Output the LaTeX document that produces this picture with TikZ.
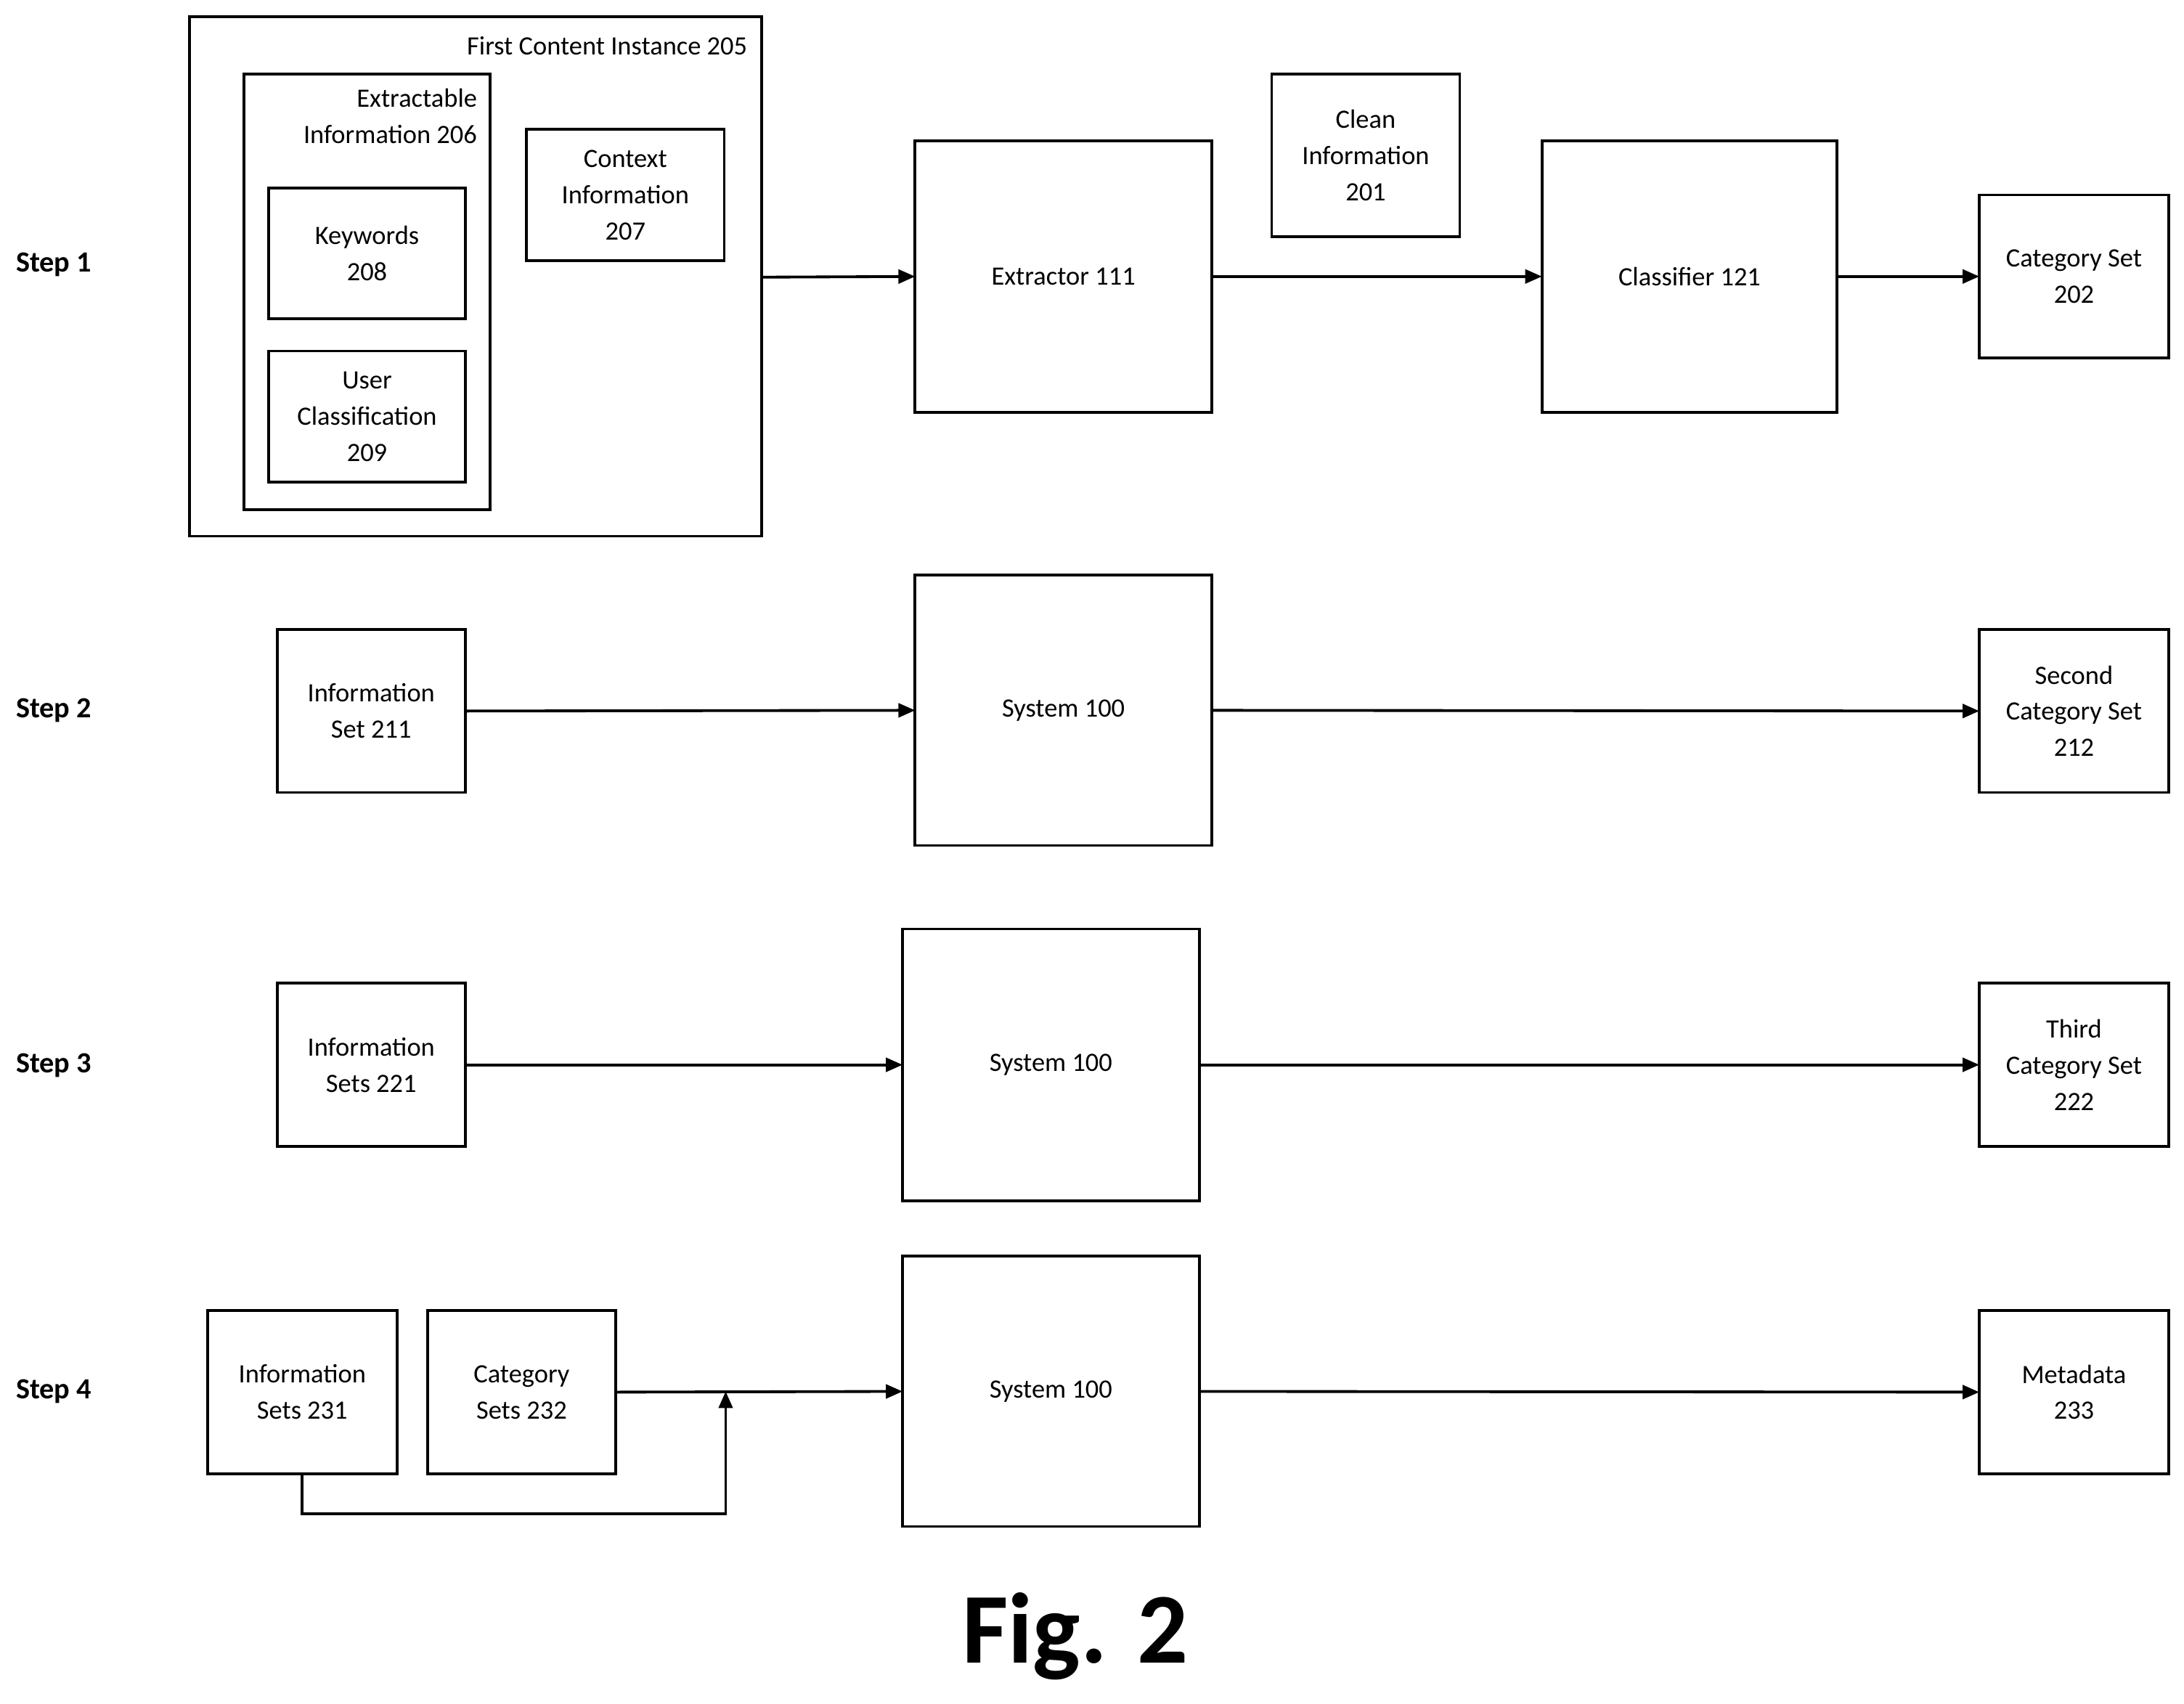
\documentclass[tikz,border=0pt]{standalone}
\usepackage{fontspec}
\setmainfont{Carlito}
\usetikzlibrary{arrows.meta}
\begin{document}
\begin{tikzpicture}[x=1pt,y=-1pt,
 bx/.style={draw,line width=2pt},
 ar/.style={line width=2pt,-{Triangle[length=12pt,width=10pt]}},
 lbl/.style={font=\fontsize{19}{26}\selectfont,align=center},
 stp/.style={font=\fontsize{21}{26}\selectfont\bfseries,anchor=west}]
\useasboundingbox (0,0) rectangle (1568,1223);
\newcommand\bxx[6]{\draw[bx] (#2,#3) rectangle (#4,#5); \node[lbl] (#1) at ({(#2+#4)/2},{(#3+#5)/2}) {#6};
 \coordinate (#1w) at (#2,{(#3+#5)/2}); \coordinate (#1e) at (#4,{(#3+#5)/2});}
% Step 1
\draw[bx] (136,12) rectangle (547,385);
\node[lbl,anchor=east] (fci) at (540,33) {First Content Instance 205};
\coordinate (fcie) at (547,199);
\draw[bx] (175,53) rectangle (352,366);
\node[lbl,anchor=north east,align=right] (ext) at (346,60) {Extractable\\Information 206};
\bxx{ctx}{378}{93}{520}{187}{Context\\Information\\207}
\bxx{kw}{193}{135}{334}{229}{Keywords\\208}
\bxx{uc}{193}{252}{334}{346}{User\\Classification\\209}
\bxx{ex}{657}{101}{870}{296}{Extractor 111}
\bxx{cl}{913}{53}{1048}{170}{Clean\\Information\\201}
\bxx{cf}{1107}{101}{1319}{296}{Classifier 121}
\bxx{cs}{1421}{140}{1557}{257}{Category Set\\202}
\draw[ar] (fcie) -- (exw);
\draw[ar] (exe) -- (cfw);
\draw[ar] (cfe) -- (csw);
% Step 2
\bxx{is2}{199}{452}{334}{569}{Information\\Set 211}
\bxx{sy2}{657}{413}{870}{607}{System 100}
\bxx{sc2}{1421}{452}{1557}{569}{Second\\Category Set\\212}
\draw[ar] (is2e) -- (sy2w);
\draw[ar] (sy2e) -- (sc2w);
% Step 3
\bxx{is3}{199}{706}{334}{823}{Information\\Sets 221}
\bxx{sy3}{648}{667}{861}{862}{System 100}
\bxx{tc3}{1421}{706}{1557}{823}{Third\\Category Set\\222}
\draw[ar] (is3e) -- (sy3w);
\draw[ar] (sy3e) -- (tc3w);
% Step 4
\bxx{is4}{149}{941}{285}{1058}{Information\\Sets 231}
\bxx{cs4}{307}{941}{442}{1058}{Category\\Sets 232}
\bxx{sy4}{648}{902}{861}{1096}{System 100}
\bxx{md4}{1421}{941}{1557}{1058}{Metadata\\233}
\coordinate (j) at (521,999);
\coordinate (is4s) at (217,1058);
\draw[ar] (cs4e) -- (sy4w);
\draw[ar] (is4s) -- (217,1087) -- (521,1087) -- (j);
\draw[ar] (sy4e) -- (md4w);
% steps
\node[stp] (s1) at (8,190) {Step 1};
\node[stp] (s2) at (8,510) {Step 2};
\node[stp] (s3) at (8,765) {Step 3};
\node[stp] (s4) at (8,999) {Step 4};
\node[font=\fontsize{72}{80}\selectfont\bfseries] (fig) at (772,1175) {Fig. 2};
\end{tikzpicture}
\end{document}
